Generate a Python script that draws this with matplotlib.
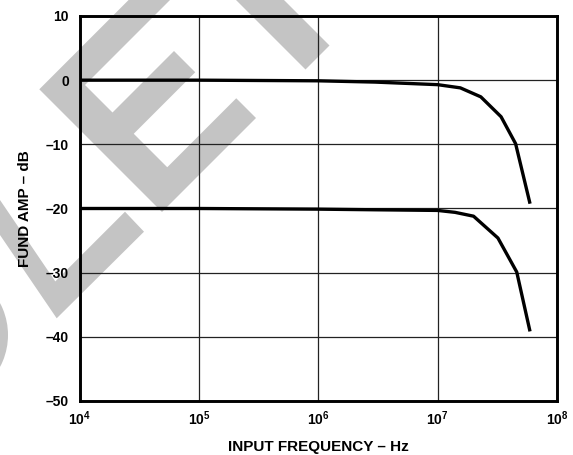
import numpy as np
import matplotlib
matplotlib.use("Agg")
import matplotlib.pyplot as plt
from matplotlib.patches import Polygon, Wedge
from matplotlib.transforms import Affine2D

plt.rcParams['font.family'] = ['Liberation Sans', 'DejaVu Sans']
plt.rcParams['font.weight'] = 'bold'
plt.rcParams['mathtext.fontset'] = 'custom'
plt.rcParams['mathtext.rm'] = 'Liberation Sans:bold'
plt.rcParams['mathtext.it'] = 'Liberation Sans:bold'
plt.rcParams['mathtext.bf'] = 'Liberation Sans:bold'

# data (frequency in Hz, amplitude in dB)
freq_0db = [1e4, 1e5, 1e6, 3e6, 1e7, 1.55e7, 2.3e7, 3.4e7, 4.5e7, 5.9e7]
amp_0db = [0.0, 0.0, -0.1, -0.3, -0.7, -1.2, -2.6, -5.7, -9.9, -19.0]

freq_20db = [1e4, 1e5, 1e6, 3e6, 1e7, 1.4e7, 2.0e7, 3.2e7, 4.6e7, 5.9e7]
amp_20db = [-20.0, -20.0, -20.1, -20.2, -20.3, -20.6, -21.2, -24.6, -29.9, -38.9]

yticks = [10, 0, -10, -20, -30, -40, -50]
ytick_labels = ['10', '0', '–10', '–20', '–30', '–40', '–50']
xticks = [1e4, 1e5, 1e6, 1e7, 1e8]
xtick_labels = [r'$\mathrm{10^{4}}$', r'$\mathrm{10^{5}}$', r'$\mathrm{10^{6}}$',
                r'$\mathrm{10^{7}}$', r'$\mathrm{10^{8}}$']

W, H = 573, 455
fig = plt.figure(figsize=(W / 100, H / 100), dpi=100)
ax = fig.add_axes([79.5 / W, 1 - 401 / H, (557 - 79.5) / W, (401 - 16) / H])
ax.set_facecolor('none')

# gray watermark behind the plot, in pixel coords (y from top)
px = Affine2D().scale(1 / W, -1 / H).translate(0, 1) + fig.transFigure
gray = '#c4c4c4'


def uv(u, v):
    return ((u + v) / 2, (u - v) / 2)


e_shape = [uv(128.6, -50), uv(128.6, 260), uv(170, 260), uv(170, 0),
           uv(225, 0), uv(225, 123), uv(267.5, 123), uv(267.5, 0),
           uv(334.5, 0), uv(334.5, 138), uv(374, 138), uv(374, -50)]
bar_shape = [uv(-50, 236), uv(-50, 284), uv(375, 284), uv(375, 236)]
v_shape = [(0, 235), (56.7, 318.3), (144, 231.7), (125, 211.7),
           (55.3, 281.4), (0, 200)]
for pts in (e_shape, bar_shape, v_shape):
    fig.patches.append(Polygon(pts, closed=True, facecolor=gray,
                               edgecolor='none', transform=px, zorder=-1))
fig.patches.append(Wedge((-60, 335), 68, 0, 360, width=28, facecolor=gray,
                         edgecolor='none', transform=px, zorder=-1))

ax.plot(freq_0db, amp_0db, color='black', lw=2.4, solid_joinstyle='round')
ax.plot(freq_20db, amp_20db, color='black', lw=2.4, solid_joinstyle='round')

ax.set_xscale('log')
ax.set_xlim(1e4, 1e8)
ax.set_ylim(-50, 10)
ax.set_xticks(xticks)
ax.set_xticklabels(xtick_labels)
ax.set_yticks(yticks)
ax.set_yticklabels(ytick_labels)
ax.minorticks_off()
ax.tick_params(axis='both', length=0, labelsize=10)
ax.tick_params(axis='y', pad=7.5)
ax.tick_params(axis='x', pad=6)
ax.grid(True, color='#222222', lw=0.9)
ax.set_axisbelow(True)
for s in ax.spines.values():
    s.set_linewidth(2.1)

ax.set_xlabel('INPUT FREQUENCY – Hz', fontsize=11, fontweight='bold', labelpad=9)
ax.set_ylabel('FUND AMP – dB', fontsize=11, fontweight='bold', labelpad=10)

fig.savefig('out.png', dpi=100)
